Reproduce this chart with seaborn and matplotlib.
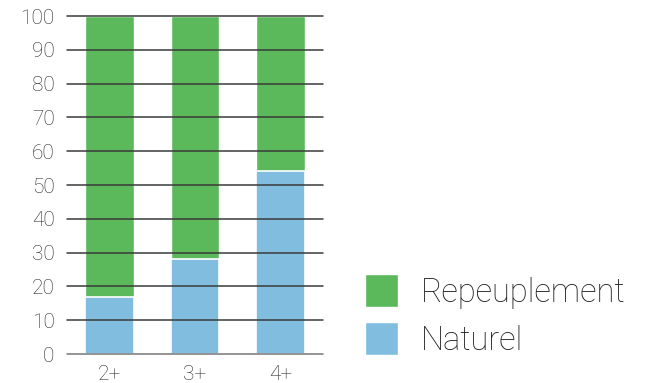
import matplotlib
matplotlib.use("Agg")
import matplotlib.pyplot as plt
import seaborn as sns
import pandas as pd
from matplotlib.patches import Patch

# Données
classes = ["2+", "3+", "4+"]
naturel = [17, 28, 54]
repeuplement = [83, 72, 46]
yticks = [0, 10, 20, 30, 40, 50, 60, 70, 80, 90, 100]

green = "#5cb95b"
blue = "#80bddf"

sns.set_style("white")
plt.rcParams["font.family"] = ["Roboto", "DejaVu Sans"]

df = pd.DataFrame({"classe": classes, "naturel": naturel, "repeuplement": repeuplement})
df["total"] = df["naturel"] + df["repeuplement"]

fig = plt.figure(figsize=(6.51, 3.83), dpi=100)
ax = fig.add_axes([0.103, 0.0757, 0.393, 0.8825])

sns.barplot(data=df, x="classe", y="total", color=green, saturation=1,
            width=0.57, ax=ax, zorder=1)
sns.barplot(data=df, x="classe", y="naturel", color=blue, saturation=1,
            width=0.57, ax=ax, edgecolor="white", linewidth=1.2, zorder=2)

for v in yticks:
    ax.axhline(v, color="#777777" if v == 0 else "#3a3a3a", lw=1.1, zorder=3, clip_on=False)

ax.set_xlim(-0.5, 2.5)
ax.set_ylim(0, 100)
ax.set_yticks(yticks)
ax.set_xlabel("")
ax.set_ylabel("")
ax.tick_params(axis="both", length=0, labelsize=15, colors="#2a2a2a")
ax.tick_params(axis="y", pad=9)
ax.tick_params(axis="x", pad=8)
for lab in ax.get_xticklabels() + ax.get_yticklabels():
    lab.set_fontweight("light")
sns.despine(ax=ax, left=True, bottom=True)

handles = [Patch(facecolor=green, label="Repeuplement"),
           Patch(facecolor=blue, label="Naturel")]
leg = fig.legend(handles=handles, loc="lower left", bbox_to_anchor=(365 / 651, 0.068),
                 frameon=False, fontsize=23.5, handlelength=1.01, handleheight=1.18,
                 handletextpad=0.7, labelspacing=0.42, borderpad=0, borderaxespad=0,
                 labelcolor="#1e1e1e")
for t in leg.get_texts():
    t.set_fontweight("light")

fig.savefig("out.png", dpi=100)
